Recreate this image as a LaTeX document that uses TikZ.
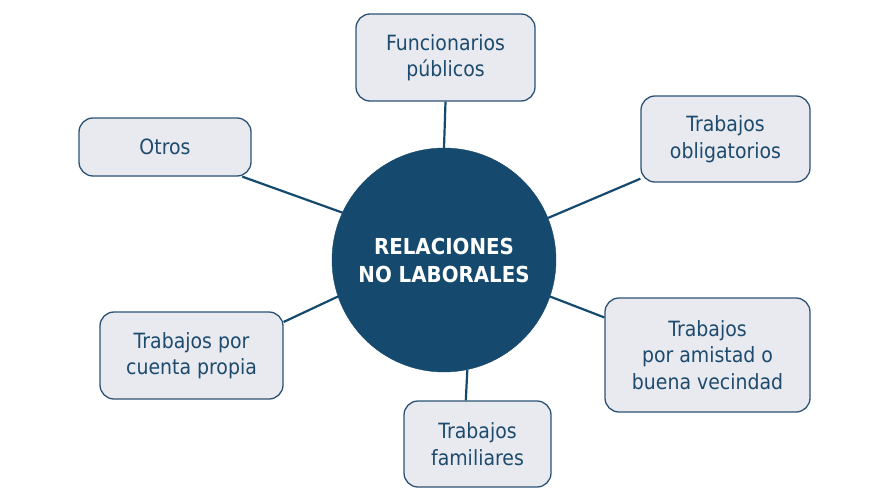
\documentclass[tikz,border=0pt]{standalone}
\usepackage{fontspec}
\setmainfont{DejaVu Sans}[FakeStretch=0.9]
\definecolor{navy}{HTML}{154A6E}
\definecolor{boxfill}{HTML}{E8EAF0}
\definecolor{boxline}{HTML}{2C5375}
\definecolor{txt}{HTML}{1D4A6D}
\begin{document}
\begin{tikzpicture}[x=1pt,y=-1pt,
  topic/.style={draw=boxline, line width=1.3pt, fill=boxfill, rounded corners=14pt,
    text=txt, align=center, inner sep=0pt, font=\fontsize{21}{26.5}\selectfont},
  hub/.style={circle, fill=navy, draw=navy, minimum size=224pt, inner sep=0pt,
    text=white, align=center, font=\bfseries\fontsize{22}{28}\selectfont},
  link/.style={draw=navy, line width=2.2pt}]
\fill[white] (0,0) rectangle (885,503);
\useasboundingbox (0,0) rectangle (885,503);
\node[hub] (c) at (444,260) {RELACIONES\\NO LABORALES};
\node[topic, minimum width=179pt, minimum height=87pt] (f) at (445.5,57.5) {Funcionarios\\públicos};
\node[topic, minimum width=169pt, minimum height=86pt] (o) at (725.5,139) {Trabajos\\obligatorios};
\node[topic, minimum width=172pt, minimum height=58pt] (ot) at (165,147) {Otros};
\node[topic, minimum width=183pt, minimum height=87pt] (p) at (191.5,355.5) {Trabajos por\\cuenta propia};
\node[topic, minimum width=205pt, minimum height=114pt] (a) at (707.5,355) {Trabajos\\por amistad o\\buena vecindad};
\node[topic, minimum width=147pt, minimum height=86pt] (fa) at (477.5,444) {Trabajos\\familiares};
\draw[link] (f.south) -- (c.90);
\draw[link] (o.205.5) -- (c.22.8);
\draw[link] (ot.-21.7) -- (c.155.9);
\draw[link] (p.20.7) -- (c.199.4);
\draw[link] (a.160.2) -- (c.-19.1);
\draw[link] (fa.105) -- (c.-78.7);
\end{tikzpicture}
\end{document}
